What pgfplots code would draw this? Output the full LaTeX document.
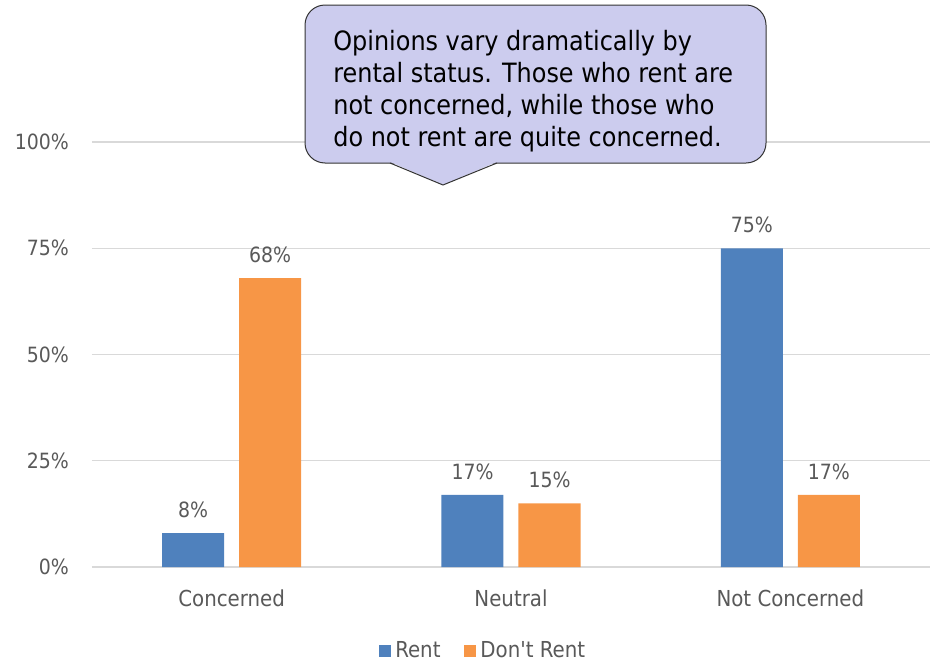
\documentclass[border=0pt]{standalone}
\usepackage{fontspec}
\setmainfont{DejaVu Sans Condensed}[Ligatures=TeXOff]
\usepackage{pgfplots}
\pgfplotsset{compat=1.18}
\definecolor{rentblue}{HTML}{4F81BD}
\definecolor{dontorange}{HTML}{F79646}
\definecolor{txtgray}{HTML}{595959}
\definecolor{gridgray}{HTML}{D9D9D9}
\definecolor{callout}{HTML}{CCCCEE}
\begin{document}
\begin{tikzpicture}
\path[use as bounding box] (0,0) rectangle (466pt,330.5pt);
\begin{axis}[
  at={(46pt,47pt)}, anchor=south west,
  scale only axis, width=419pt, height=212.5pt,
  ybar=7.5pt, bar width=31pt,
  xmin=-0.5, xmax=2.5, ymin=0, ymax=100,
  xtick={0,1,2}, xticklabels={Concerned,Neutral,Not Concerned},
  ytick={0,25,50,75,100},
  yticklabel={\pgfmathprintnumber{\tick}\%},
  /pgf/number format/assume math mode=true,
  ymajorgrids, grid style={draw=gridgray, line width=0.6pt},
  axis line style={draw=none},
  major tick length=0pt,
  tick label style={text=txtgray},
  xticklabel style={yshift=-8pt, font=\fontsize{11}{13}\selectfont},
  yticklabel style={xshift=-8pt, font=\fontsize{10.5}{12}\selectfont},
  nodes near coords={\pgfmathprintnumber{\pgfplotspointmeta}\%},
  every node near coord/.append style={font=\fontsize{10.5}{12}\selectfont, text=txtgray, yshift=4pt},
  clip=false,
  legend columns=2,
  legend style={at={(0.468,-0.198)}, anchor=center, draw=none, fill=none,
    font=\fontsize{11}{13}\selectfont, text=txtgray,
    /tikz/every even column/.append style={column sep=10pt}},
  legend image code/.code={\fill[#1] (0pt,-3pt) rectangle (6pt,3pt);},
]
\addplot[fill=rentblue, draw=none] coordinates {(0,8) (1,17) (2,75)};
\addplot[fill=dontorange, draw=none] coordinates {(0,68) (1,15) (2,17)};
\legend{Rent,Don't Rent}
\end{axis}
\draw[fill=callout, draw=black!80, line width=0.5pt, rounded corners=10pt]
  (152.5pt,249pt) rectangle (383pt,328pt);
\fill[callout] (249pt,249.8pt) -- (221.5pt,238pt) -- (194.5pt,249.8pt) -- cycle;
\draw[draw=black!80, line width=0.5pt] (248.5pt,249pt) -- (221.5pt,238pt) -- (195pt,249pt);
\node[anchor=north west, align=left, inner sep=0pt, font=\fontsize{13.3}{16}\selectfont, text=black]
  at (166.5pt,315.5pt) {Opinions vary dramatically by\\rental status. Those who rent are\\not concerned, while those who\\do not rent are quite concerned.};
\end{tikzpicture}
\end{document}
